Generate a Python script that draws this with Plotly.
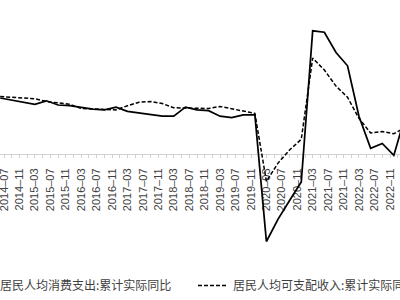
import plotly.graph_objects as go

# Quarterly data (cumulative real YoY growth, %)
dates = [
    "2014-06-01", "2014-09-01", "2014-12-01",
    "2015-03-01", "2015-06-01", "2015-09-01", "2015-12-01",
    "2016-03-01", "2016-06-01", "2016-09-01", "2016-12-01",
    "2017-03-01", "2017-06-01", "2017-09-01", "2017-12-01",
    "2018-03-01", "2018-06-01", "2018-09-01", "2018-12-01",
    "2019-03-01", "2019-06-01", "2019-09-01", "2019-12-01",
    "2020-03-01", "2020-06-01", "2020-09-01", "2020-12-01",
    "2021-03-01", "2021-06-01", "2021-09-01", "2021-12-01",
    "2022-03-01", "2022-06-01", "2022-09-01", "2022-12-01",
    "2023-03-01",
]
consumption = [
    8.0, 7.7, 7.5,
    7.1, 7.6, 7.0, 6.9,
    6.6, 6.4, 6.3, 6.7,
    6.1, 5.9, 5.7, 5.4,
    5.4, 6.7, 6.3, 6.2,
    5.4, 5.2, 5.6, 5.6,
    -12.5, -9.3, -6.6, -4.0,
    17.6, 17.4, 14.5, 12.6,
    5.4, 0.8, 1.5, -0.2,
    5.4,
]
income = [
    8.2, 8.1, 8.0,
    7.9, 7.5, 7.3, 7.1,
    6.5, 6.4, 6.3, 6.3,
    6.9, 7.4, 7.5, 7.2,
    6.6, 6.6, 6.6, 6.5,
    6.8, 6.5, 6.1, 5.8,
    -3.9, -1.3, 0.6, 2.1,
    13.7, 12.0, 9.7, 8.1,
    5.1, 3.0, 3.2, 2.9,
    3.8,
]

tick_vals = [
    "2014-07-01", "2014-11-01", "2015-03-01", "2015-07-01", "2015-11-01",
    "2016-03-01", "2016-07-01", "2016-11-01", "2017-03-01", "2017-07-01",
    "2017-11-01", "2018-03-01", "2018-07-01", "2018-11-01", "2019-03-01",
    "2019-07-01", "2019-11-01", "2020-03-01", "2020-07-01", "2020-11-01",
    "2021-03-01", "2021-07-01", "2021-11-01", "2022-03-01", "2022-07-01",
    "2022-11-01",
]
tick_text = [
    "2014–07", "2014–11", "2015–03", "2015–07", "2015–11",
    "2016–03", "2016–07", "2016–11", "2017–03", "2017–07",
    "2017–11", "2018–03", "2018–07", "2018–11", "2019–03",
    "2019–07", "2019–11", "2020–03", "2020–07", "2020–11",
    "2021–03", "2021–07", "2021–11", "2022–03", "2022–07",
    "2022–11",
]

name_consumption = "居民人均消费支出:累计实际同比"
name_income = "居民人均可支配收入:累计实际同比"

Y_MAX = 22.0
Y_MIN = -14.43

fig = go.Figure()
fig.add_trace(go.Scatter(
    x=dates, y=consumption, mode="lines", name=name_consumption,
    line=dict(color="#000000", width=1.75), legend="legend",
))
fig.add_trace(go.Scatter(
    x=dates, y=income, mode="lines", name=name_income,
    line=dict(color="#000000", width=1.5, dash="4px,2px"), legend="legend2",
))

legend_font = dict(size=12, family="Noto Sans CJK SC", color="#404040")
fig.update_layout(
    width=400, height=300,
    margin=dict(l=0, r=0, t=0, b=45, autoexpand=False),
    paper_bgcolor="white", plot_bgcolor="white",
    showlegend=True,
    legend=dict(orientation="h", x=-0.1, xanchor="left", y=-0.12, yanchor="middle",
                font=legend_font, bgcolor="rgba(0,0,0,0)"),
    legend2=dict(orientation="h", x=0.4825, xanchor="left", y=-0.12, yanchor="middle",
                 font=legend_font, bgcolor="rgba(0,0,0,0)"),
    xaxis=dict(
        type="date",
        range=["2014-05-30 11:00", "2023-01-18 19:00"],
        anchor="free", position=(0 - Y_MIN) / (Y_MAX - Y_MIN),
        showgrid=False, zeroline=False,
        showline=True, linecolor="#d0d0d0", linewidth=1,
        tickmode="array", tickvals=tick_vals, ticktext=tick_text,
        tickangle=-90, ticks="outside", ticklen=3, tickcolor="#d0d0d0",
        ticklabelstandoff=6, ticklabeloverflow="allow",
        tickfont=dict(size=11, family="Liberation Sans", color="#404040"),
        minor=dict(dtick="M2", tick0="2014-07-01", ticks="outside", ticklen=3,
                   tickcolor="#d0d0d0", showgrid=False),
        layer="below traces",
    ),
    yaxis=dict(range=[Y_MIN, Y_MAX], visible=False, showgrid=False, zeroline=False),
)

fig.write_html("out.html")
